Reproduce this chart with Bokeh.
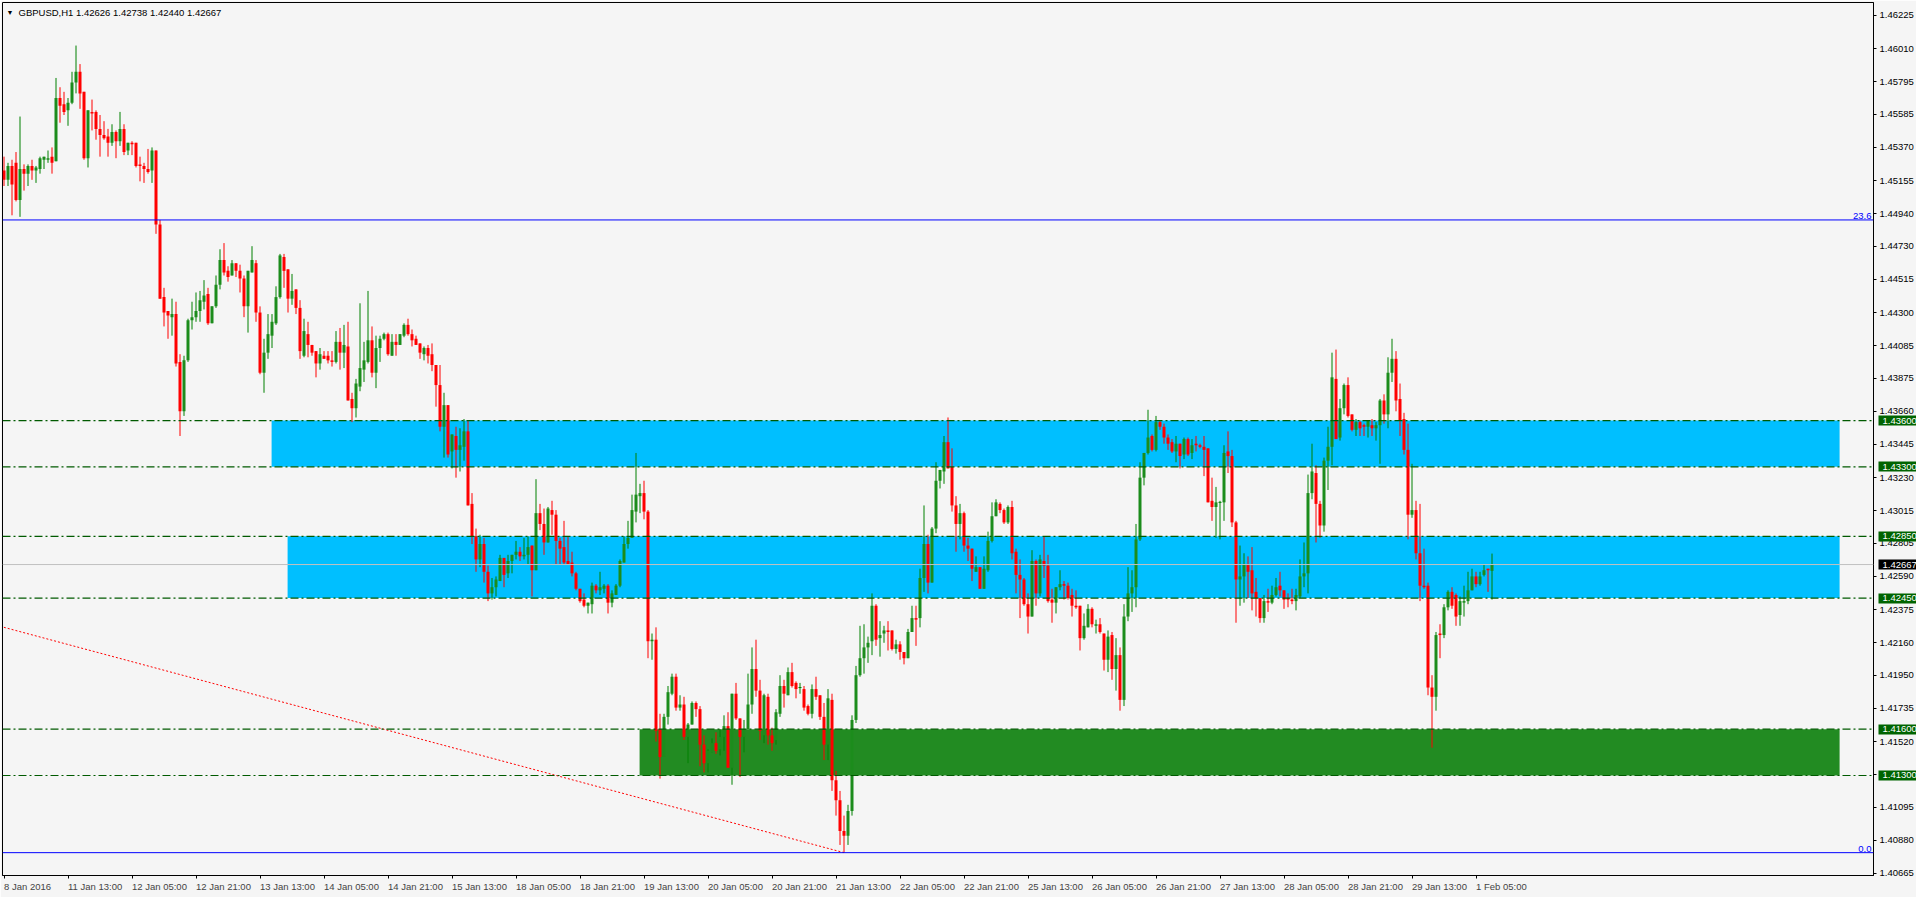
from bokeh.plotting import figure
from bokeh.models import (Range1d, FixedTicker, PrintfTickFormatter, Span, Label,
                          ColumnDataSource, LinearAxis)
from bokeh.embed import file_html
from bokeh.resources import INLINE

title_text = "GBPUSD,H1  1.42626 1.42738 1.42440 1.42667"

opens = [1.4522,1.4516,1.4525,1.4527,1.4503,1.4523,1.4520,1.4525,1.4522,1.4523,
1.4529,1.4529,1.4531,1.4528,1.4569,1.4565,1.4561,1.4566,1.4579,1.4586,
1.4573,1.4530,1.4560,1.4560,1.4549,1.4545,1.4544,1.4540,1.4547,1.4541,
1.4549,1.4535,1.4540,1.4540,1.4526,1.4525,1.4523,1.4522,1.4535,1.4487,
1.4440,1.4431,1.4427,1.4429,1.4398,1.4366,1.4399,1.4425,1.4427,1.4431,
1.4437,1.4442,1.4423,1.4434,1.4448,1.4464,1.4457,1.4454,1.4462,1.4457,
1.4452,1.4434,1.4456,1.4462,1.4430,1.4391,1.4404,1.4415,1.4423,1.4440,
1.4466,1.4458,1.4439,1.4445,1.4433,1.4402,1.4416,1.4409,1.4405,1.4397,
1.4402,1.4402,1.4399,1.4398,1.4411,1.4404,1.4408,1.4374,1.4368,1.4382,
1.4393,1.4398,1.4412,1.4391,1.4407,1.4413,1.4416,1.4402,1.4411,1.4409,
1.4415,1.4422,1.4416,1.4413,1.4410,1.4403,1.4407,1.4403,1.4396,1.4383,
1.4356,1.4370,1.4340,1.4350,1.4341,1.4343,1.4353,1.4306,1.4285,1.4270,
1.4280,1.4262,1.4248,1.4252,1.4256,1.4271,1.4261,1.4269,1.4273,1.4275,
1.4272,1.4273,1.4279,1.4263,1.4300,1.4293,1.4281,1.4302,1.4299,1.4282,
1.4278,1.4269,1.4268,1.4261,1.4251,1.4244,1.4240,1.4241,1.4253,1.4250,
1.4251,1.4253,1.4242,1.4247,1.4253,1.4268,1.4280,1.4284,1.4301,1.4311,
1.4313,1.4301,1.4217,1.4218,1.4160,1.4142,1.4168,1.4183,1.4194,1.4174,
1.4176,1.4155,1.4163,1.4177,1.4173,1.4150,1.4138,1.4145,1.4151,1.4147,
1.4155,1.4162,1.4135,1.4183,1.4167,1.4155,1.4160,1.4176,1.4199,1.4185,
1.4156,1.4181,1.4156,1.4153,1.4170,1.4188,1.4182,1.4197,1.4190,1.4187,
1.4186,1.4175,1.4170,1.4186,1.4182,1.4168,1.4150,1.4179,1.4127,1.4114,
1.4094,1.4091,1.4107,1.4166,1.4195,1.4206,1.4213,1.4217,1.4240,1.4219,
1.4222,1.4224,1.4224,1.4212,1.4215,1.4210,1.4206,1.4223,1.4232,1.4232,
1.4258,1.4280,1.4255,1.4290,1.4321,1.4327,1.4346,1.4330,1.4305,1.4293,
1.4300,1.4279,1.4277,1.4262,1.4265,1.4251,1.4263,1.4282,1.4298,1.4306,
1.4302,1.4294,1.4304,1.4275,1.4260,1.4257,1.4241,1.4233,1.4269,1.4248,
1.4269,1.4266,1.4244,1.4242,1.4252,1.4254,1.4253,1.4247,1.4240,1.4240,
1.4219,1.4226,1.4238,1.4227,1.4228,1.4222,1.4205,1.4221,1.4199,1.4208,
1.4179,1.4233,1.4248,1.4252,1.4283,1.4323,1.4339,1.4350,1.4341,1.4359,
1.4356,1.4349,1.4346,1.4340,1.4345,1.4338,1.4348,1.4339,1.4345,1.4344,
1.4343,1.4342,1.4308,1.4304,1.4307,1.4307,1.4340,1.4337,1.4294,1.4257,
1.4259,1.4267,1.4263,1.4249,1.4245,1.4232,1.4243,1.4242,1.4247,1.4253,
1.4250,1.4245,1.4244,1.4243,1.4246,1.4259,1.4261,1.4313,1.4326,1.4306,
1.4292,1.4334,1.4343,1.4387,1.4349,1.4368,1.4383,1.4364,1.4354,1.4359,
1.4357,1.4356,1.4357,1.4355,1.4357,1.4373,1.4364,1.4391,1.4400,1.4374,
1.4361,1.4341,1.4299,1.4302,1.4274,1.4253,1.4253,1.4187,1.4181,1.4222,
1.4221,1.4239,1.4249,1.4247,1.4234,1.4242,1.4243,1.4250,1.4259,1.4254,
1.4260,1.4264,1.42626]

highs = [1.4531,1.4527,1.4529,1.4534,1.4557,1.4526,1.4526,1.4529,1.4525,1.4531,
1.4531,1.4535,1.4537,1.4582,1.4576,1.4573,1.4569,1.4586,1.4603,1.4591,
1.4573,1.4561,1.4568,1.4561,1.4558,1.4554,1.4549,1.4552,1.4548,1.4560,
1.4552,1.4540,1.4541,1.4540,1.4531,1.4527,1.4536,1.4537,1.4535,1.4490,
1.4446,1.4431,1.4439,1.4437,1.4403,1.4402,1.4426,1.4437,1.4443,1.4444,
1.4451,1.4446,1.4434,1.4454,1.4471,1.4475,1.4460,1.4464,1.4462,1.4461,
1.4454,1.4457,1.4473,1.4464,1.4434,1.4413,1.4429,1.4429,1.4447,1.4468,
1.4468,1.4458,1.4455,1.4445,1.4438,1.4426,1.4424,1.4409,1.4405,1.4407,
1.4405,1.4405,1.4405,1.4418,1.4420,1.4422,1.4424,1.4378,1.4387,1.4436,
1.4411,1.4444,1.4421,1.4415,1.4415,1.4417,1.4417,1.4416,1.4416,1.4416,
1.4423,1.4426,1.4419,1.4415,1.4410,1.4408,1.4409,1.4410,1.4396,1.4396,
1.4378,1.4370,1.4351,1.4356,1.4355,1.4361,1.4360,1.4313,1.4290,1.4286,
1.4284,1.4266,1.4258,1.4259,1.4273,1.4271,1.4273,1.4273,1.4282,1.4278,
1.4284,1.4285,1.4279,1.4322,1.4306,1.4303,1.4304,1.4308,1.4302,1.4284,
1.4295,1.4285,1.4275,1.4262,1.4251,1.4248,1.4242,1.4255,1.4254,1.4262,
1.4254,1.4254,1.4250,1.4254,1.4270,1.4285,1.4295,1.4312,1.4339,1.4319,
1.4321,1.4302,1.4222,1.4226,1.4170,1.4170,1.4188,1.4196,1.4196,1.4182,
1.4181,1.4164,1.4178,1.4178,1.4175,1.4156,1.4147,1.4154,1.4158,1.4160,
1.4169,1.4171,1.4183,1.4190,1.4167,1.4166,1.4196,1.4213,1.4218,1.4192,
1.4183,1.4183,1.4161,1.4173,1.4195,1.4192,1.4200,1.4203,1.4191,1.4190,
1.4188,1.4176,1.4189,1.4194,1.4182,1.4177,1.4186,1.4183,1.4133,1.4120,
1.4104,1.4111,1.4169,1.4201,1.4227,1.4228,1.4220,1.4248,1.4241,1.4230,
1.4227,1.4230,1.4224,1.4218,1.4217,1.4210,1.4225,1.4240,1.4240,1.4264,
1.4305,1.4286,1.4291,1.4333,1.4328,1.4350,1.4362,1.4342,1.4311,1.4306,
1.4301,1.4284,1.4277,1.4272,1.4265,1.4272,1.4288,1.4307,1.4309,1.4307,
1.4303,1.4305,1.4308,1.4277,1.4270,1.4258,1.4248,1.4276,1.4270,1.4273,
1.4285,1.4273,1.4251,1.4252,1.4263,1.4256,1.4255,1.4251,1.4250,1.4240,
1.4235,1.4241,1.4239,1.4231,1.4232,1.4222,1.4224,1.4223,1.4219,1.4213,
1.4241,1.4265,1.4263,1.4293,1.4333,1.4339,1.4367,1.4351,1.4363,1.4360,
1.4358,1.4351,1.4348,1.4350,1.4345,1.4349,1.4349,1.4348,1.4350,1.4345,
1.4350,1.4342,1.4323,1.4317,1.4308,1.4344,1.4353,1.4341,1.4295,1.4279,
1.4274,1.4272,1.4278,1.4258,1.4245,1.4247,1.4251,1.4253,1.4258,1.4262,
1.4250,1.4248,1.4251,1.4251,1.4270,1.4281,1.4325,1.4345,1.4331,1.4308,
1.4336,1.4356,1.4404,1.4406,1.4374,1.4384,1.4388,1.4364,1.4361,1.4360,
1.4358,1.4360,1.4361,1.4359,1.4374,1.4377,1.4401,1.4413,1.4405,1.4384,
1.4365,1.4358,1.4332,1.4308,1.4306,1.4277,1.4255,1.4195,1.4223,1.4228,
1.4241,1.4250,1.4252,1.4248,1.4246,1.4253,1.4262,1.4264,1.4262,1.4262,
1.4267,1.4264,1.42738]

lows = [1.4512,1.4512,1.4493,1.4502,1.4492,1.4509,1.4512,1.4516,1.4514,1.4520,
1.4523,1.4527,1.4520,1.4528,1.4553,1.4558,1.4551,1.4565,1.4572,1.4562,
1.4529,1.4524,1.4548,1.4542,1.4531,1.4542,1.4531,1.4538,1.4530,1.4538,
1.4532,1.4532,1.4532,1.4524,1.4515,1.4514,1.4520,1.4514,1.4481,1.4439,
1.4421,1.4413,1.4415,1.4395,1.4350,1.4363,1.4398,1.4419,1.4424,1.4424,
1.4432,1.4422,1.4423,1.4433,1.4445,1.4454,1.4450,1.4454,1.4453,1.4443,
1.4427,1.4417,1.4456,1.4424,1.4390,1.4378,1.4400,1.4407,1.4422,1.4439,
1.4446,1.4430,1.4435,1.4429,1.4400,1.4401,1.4401,1.4402,1.4388,1.4393,
1.4400,1.4397,1.4395,1.4397,1.4393,1.4394,1.4373,1.4359,1.4362,1.4379,
1.4385,1.4397,1.4388,1.4381,1.4398,1.4412,1.4402,1.4402,1.4402,1.4409,
1.4414,1.4415,1.4408,1.4409,1.4400,1.4399,1.4397,1.4392,1.4369,1.4353,
1.4336,1.4336,1.4329,1.4323,1.4327,1.4334,1.4305,1.4280,1.4262,1.4265,
1.4255,1.4243,1.4244,1.4246,1.4256,1.4252,1.4258,1.4261,1.4270,1.4269,
1.4270,1.4267,1.4246,1.4263,1.4289,1.4273,1.4281,1.4286,1.4267,1.4267,
1.4267,1.4267,1.4259,1.4250,1.4242,1.4239,1.4235,1.4235,1.4248,1.4247,
1.4248,1.4235,1.4239,1.4247,1.4252,1.4268,1.4277,1.4284,1.4294,1.4300,
1.4296,1.4206,1.4205,1.4152,1.4128,1.4142,1.4163,1.4182,1.4172,1.4172,
1.4153,1.4138,1.4163,1.4168,1.4136,1.4132,1.4132,1.4145,1.4144,1.4143,
1.4146,1.4135,1.4124,1.4166,1.4129,1.4145,1.4160,1.4170,1.4181,1.4153,
1.4151,1.4150,1.4146,1.4150,1.4168,1.4174,1.4182,1.4187,1.4180,1.4183,
1.4172,1.4169,1.4167,1.4179,1.4166,1.4140,1.4140,1.4120,1.4104,1.4085,
1.4080,1.4085,1.4104,1.4164,1.4194,1.4196,1.4203,1.4208,1.4214,1.4207,
1.4216,1.4211,1.4211,1.4209,1.4205,1.4202,1.4206,1.4223,1.4214,1.4226,
1.4249,1.4248,1.4255,1.4287,1.4316,1.4319,1.4329,1.4301,1.4275,1.4283,
1.4275,1.4269,1.4256,1.4262,1.4251,1.4251,1.4262,1.4281,1.4298,1.4300,
1.4293,1.4293,1.4270,1.4248,1.4232,1.4240,1.4222,1.4233,1.4240,1.4246,
1.4258,1.4242,1.4229,1.4235,1.4250,1.4244,1.4244,1.4233,1.4238,1.4211,
1.4218,1.4226,1.4226,1.4222,1.4222,1.4198,1.4197,1.4192,1.4185,1.4172,
1.4175,1.4230,1.4236,1.4239,1.4282,1.4318,1.4338,1.4340,1.4340,1.4354,
1.4345,1.4341,1.4339,1.4333,1.4329,1.4335,1.4337,1.4335,1.4340,1.4342,
1.4324,1.4307,1.4295,1.4284,1.4283,1.4295,1.4326,1.4291,1.4229,1.4240,
1.4242,1.4245,1.4237,1.4233,1.4229,1.4229,1.4236,1.4241,1.4246,1.4246,
1.4238,1.4239,1.4241,1.4237,1.4245,1.4252,1.4248,1.4309,1.4281,1.4284,
1.4288,1.4315,1.4331,1.4348,1.4347,1.4364,1.4362,1.4353,1.4350,1.4350,
1.4350,1.4349,1.4350,1.4347,1.4332,1.4358,1.4355,1.4385,1.4366,1.4350,
1.4338,1.4283,1.4297,1.4270,1.4243,1.4251,1.4182,1.4148,1.4172,1.4206,
1.4219,1.4237,1.4238,1.4227,1.4227,1.4233,1.4241,1.4250,1.4252,1.4253,
1.4259,1.4249,1.42440]

closes = [1.4516,1.4525,1.4513,1.4503,1.4523,1.4520,1.4525,1.4522,1.4524,1.4530,
1.4531,1.4530,1.4527,1.4569,1.4564,1.4560,1.4566,1.4579,1.4586,1.4572,
1.4530,1.4561,1.4559,1.4549,1.4545,1.4543,1.4540,1.4547,1.4541,1.4549,
1.4534,1.4540,1.4539,1.4525,1.4525,1.4523,1.4521,1.4535,1.4487,1.4439,
1.4430,1.4428,1.4429,1.4397,1.4366,1.4399,1.4425,1.4427,1.4431,1.4438,
1.4441,1.4423,1.4434,1.4448,1.4464,1.4456,1.4453,1.4462,1.4457,1.4452,
1.4434,1.4457,1.4464,1.4430,1.4391,1.4404,1.4416,1.4424,1.4440,1.4467,
1.4457,1.4439,1.4444,1.4433,1.4405,1.4418,1.4409,1.4404,1.4397,1.4403,
1.4400,1.4399,1.4398,1.4411,1.4404,1.4409,1.4373,1.4368,1.4384,1.4394,
1.4399,1.4412,1.4391,1.4407,1.4413,1.4416,1.4403,1.4411,1.4409,1.4416,
1.4422,1.4416,1.4412,1.4409,1.4404,1.4407,1.4402,1.4396,1.4383,1.4356,
1.4370,1.4338,1.4351,1.4341,1.4344,1.4353,1.4305,1.4285,1.4270,1.4280,
1.4262,1.4248,1.4252,1.4257,1.4271,1.4260,1.4269,1.4273,1.4275,1.4272,
1.4273,1.4278,1.4263,1.4300,1.4293,1.4281,1.4303,1.4299,1.4282,1.4277,
1.4268,1.4267,1.4261,1.4251,1.4243,1.4240,1.4242,1.4253,1.4250,1.4252,
1.4253,1.4242,1.4248,1.4253,1.4269,1.4280,1.4284,1.4302,1.4312,1.4313,
1.4301,1.4217,1.4218,1.4159,1.4142,1.4168,1.4184,1.4194,1.4174,1.4176,
1.4155,1.4163,1.4177,1.4173,1.4150,1.4138,1.4146,1.4151,1.4146,1.4155,
1.4162,1.4135,1.4183,1.4167,1.4155,1.4160,1.4176,1.4199,1.4185,1.4159,
1.4182,1.4156,1.4151,1.4171,1.4188,1.4183,1.4197,1.4188,1.4186,1.4187,
1.4174,1.4170,1.4186,1.4181,1.4168,1.4150,1.4180,1.4127,1.4114,1.4094,
1.4091,1.4107,1.4166,1.4195,1.4206,1.4213,1.4216,1.4240,1.4218,1.4221,
1.4224,1.4223,1.4212,1.4215,1.4210,1.4206,1.4223,1.4232,1.4231,1.4258,
1.4280,1.4255,1.4290,1.4321,1.4328,1.4346,1.4329,1.4305,1.4293,1.4300,
1.4279,1.4277,1.4264,1.4265,1.4251,1.4264,1.4282,1.4298,1.4307,1.4302,
1.4294,1.4304,1.4274,1.4260,1.4257,1.4241,1.4233,1.4269,1.4248,1.4270,
1.4266,1.4243,1.4242,1.4252,1.4254,1.4253,1.4245,1.4240,1.4239,1.4219,
1.4227,1.4238,1.4228,1.4228,1.4223,1.4205,1.4220,1.4199,1.4208,1.4179,
1.4233,1.4248,1.4252,1.4283,1.4323,1.4339,1.4349,1.4341,1.4359,1.4356,
1.4349,1.4345,1.4340,1.4345,1.4337,1.4348,1.4338,1.4344,1.4344,1.4343,
1.4341,1.4307,1.4304,1.4307,1.4307,1.4339,1.4337,1.4294,1.4257,1.4259,
1.4267,1.4262,1.4248,1.4245,1.4232,1.4243,1.4242,1.4247,1.4252,1.4250,
1.4244,1.4244,1.4243,1.4247,1.4259,1.4261,1.4313,1.4327,1.4306,1.4292,
1.4334,1.4343,1.4388,1.4348,1.4368,1.4383,1.4363,1.4354,1.4359,1.4355,
1.4356,1.4360,1.4355,1.4357,1.4373,1.4364,1.4391,1.4400,1.4373,1.4360,
1.4341,1.4299,1.4302,1.4274,1.4253,1.4252,1.4187,1.4181,1.4221,1.4221,
1.4239,1.4249,1.4240,1.4233,1.4243,1.4243,1.4250,1.4259,1.4254,1.4259,
1.4263,1.4263,1.42667]

date_labels = ["8 Jan 2016", "11 Jan 13:00", "12 Jan 05:00", "12 Jan 21:00", "13 Jan 13:00",
               "14 Jan 05:00", "14 Jan 21:00", "15 Jan 13:00", "18 Jan 05:00", "18 Jan 21:00",
               "19 Jan 13:00", "20 Jan 05:00", "20 Jan 21:00", "21 Jan 13:00", "22 Jan 05:00",
               "22 Jan 21:00", "25 Jan 13:00", "26 Jan 05:00", "26 Jan 21:00", "27 Jan 13:00",
               "28 Jan 05:00", "28 Jan 21:00", "29 Jan 13:00", "1 Feb 05:00"]
bars_per_label = 16

price_ticks = [1.46225, 1.46010, 1.45795, 1.45585, 1.45370, 1.45155, 1.44940, 1.44730, 1.44515,
               1.44300, 1.44085, 1.43875, 1.43660, 1.43445, 1.43230, 1.43015, 1.42805, 1.42590,
               1.42375, 1.42160, 1.41950, 1.41735, 1.41520, 1.41305, 1.41095, 1.40880, 1.40665]

levels = [1.4360, 1.4330, 1.4285, 1.4245, 1.4160, 1.4130]
bid_price = 1.42667
fibo_levels = [1.4490, 1.4080]
fibo_names = ["23.6", "0.0"]

zone_left = [66.9, 70.9, 158.9]
zone_right = [458.9, 458.9, 458.9]
zone_top = [1.4360, 1.4285, 1.4160]
zone_bottom = [1.4330, 1.4245, 1.4130]
zone_color = ["#00BFFF", "#00BFFF", "#228B22"]

trend_x = [-1, 210]
trend_y = [1.42267, 1.4080]

y_low, y_high = 1.40652, 1.46309

# ---------------------------------------------------------------
FONT = "Liberation Sans"
FS = "9.5px"
BG = "#F5F5F5"
FW, FH = 1871, 873
x0 = -0.375
x_end = x0 + FW / 4.0

p = figure(frame_width=FW, frame_height=FH,
           x_range=Range1d(x0, x_end), y_range=Range1d(y_low, y_high),
           output_backend="svg", toolbar_location=None,
           y_axis_location="right",
           min_border_left=2, min_border_top=2, min_border_right=43, min_border_bottom=22)
p.background_fill_color = BG
p.border_fill_color = BG
p.outline_line_color = "black"
p.xgrid.visible = False
p.ygrid.visible = False

yax = p.yaxis[0]
yax.ticker = FixedTicker(ticks=price_ticks)
yax.formatter = PrintfTickFormatter(format="%.5f")
yax.major_tick_out = 3
yax.major_tick_in = 0
yax.minor_tick_out = 0
yax.minor_tick_in = 0
yax.major_label_standoff = 3
yax.major_label_text_font = FONT
yax.major_label_text_font_size = FS
yax.major_label_text_color = "black"
yax.axis_line_color = "black"

xax = p.xaxis[0]
tick_pos = [bars_per_label * k for k in range(len(date_labels))]
xax.ticker = FixedTicker(ticks=tick_pos)
xax.major_label_overrides = {t: lab for t, lab in zip(tick_pos, date_labels)}
xax.major_label_orientation = -0.0001
xax.major_tick_out = 3
xax.major_tick_in = 0
xax.minor_tick_out = 0
xax.minor_tick_in = 0
xax.major_label_standoff = 8
xax.major_label_text_font = FONT
xax.major_label_text_font_size = FS
xax.axis_line_color = "black"


# highlighted price boxes on the price scale (extra right axes: thick tick = box, white label)
def box_axis(values, color, tick_in, standoff):
    ax = LinearAxis(ticker=FixedTicker(ticks=values),
                    formatter=PrintfTickFormatter(format="%.5f"))
    ax.axis_line_color = None
    ax.major_tick_in = tick_in
    ax.major_tick_out = 3
    ax.minor_tick_in = 0
    ax.minor_tick_out = 0
    ax.major_tick_line_color = color
    ax.major_tick_line_width = 10
    try:
        ax.major_label_standoff = standoff
    except ValueError:
        ax.major_label_standoff = 0
    ax.major_label_text_color = "white"
    ax.major_label_text_font = FONT
    ax.major_label_text_font_size = FS
    return ax


p.add_layout(box_axis(levels, "#006400", 38, -37), "right")
p.add_layout(box_axis([bid_price], "black", 41, -40), "right")

# zones (rectangles, behind candles)
p.quad(left=zone_left, right=zone_right, top=zone_top, bottom=zone_bottom,
       fill_color=zone_color, line_color=None)

# trend line
p.line(trend_x, trend_y, line_color="#FF0000", line_dash="2 2", line_width=1)

# candles
n = len(closes)
xs = list(range(n))
bull = [c >= o for o, c in zip(opens, closes)]
src = ColumnDataSource(dict(
    x=xs, h=highs, l=lows,
    top=[max(o, c) for o, c in zip(opens, closes)],
    bot=[min(o, c) for o, c in zip(opens, closes)],
    wick=["#008000" if b else "#FF0000" for b in bull],
    fill=["#1C8C1C" if b else "#FF0000" for b in bull],
))
p.segment(x0="x", y0="l", x1="x", y1="h", source=src, line_color="wick", line_width=1)
p.vbar(x="x", width=0.75, top="top", bottom="bot", source=src,
       fill_color="fill", line_color=None)
doji_x = [i for i in xs if abs(opens[i] - closes[i]) < 0.00005]
p.segment(x0=[i - 0.375 for i in doji_x], x1=[i + 0.375 for i in doji_x],
          y0=[closes[i] for i in doji_x], y1=[closes[i] for i in doji_x],
          line_color=["#008000" if bull[i] else "#FF0000" for i in doji_x], line_width=1)

# horizontal levels
for lv in levels:
    p.add_layout(Span(location=lv, dimension="width", line_color="#005A00",
                      line_dash="8 3 2 3", line_width=1.2))

# fibonacci lines
for lv, nm in zip(fibo_levels, fibo_names):
    p.add_layout(Span(location=lv, dimension="width", line_color="#0000FF", line_width=1))
    p.add_layout(Label(x=x_end, y=lv, x_offset=-2, y_offset=1, text=nm, text_font=FONT,
                       text_font_size=FS, text_color="#0000FF", text_baseline="bottom",
                       text_align="right"))

# bid line
p.add_layout(Span(location=bid_price, dimension="width", line_color="#C0C0C0", line_width=1))

# title
p.add_layout(Label(x=x0, y=y_high, x_offset=4, y_offset=-10, text="\u25BC", text_font=FONT,
                   text_font_size="7px", text_color="black", text_baseline="middle"))
p.add_layout(Label(x=x0, y=y_high, x_offset=16, y_offset=-10, text=title_text, text_font=FONT,
                   text_font_size=FS, text_color="black", text_baseline="middle"))

open("out.html", "w").write(file_html(p, INLINE))
